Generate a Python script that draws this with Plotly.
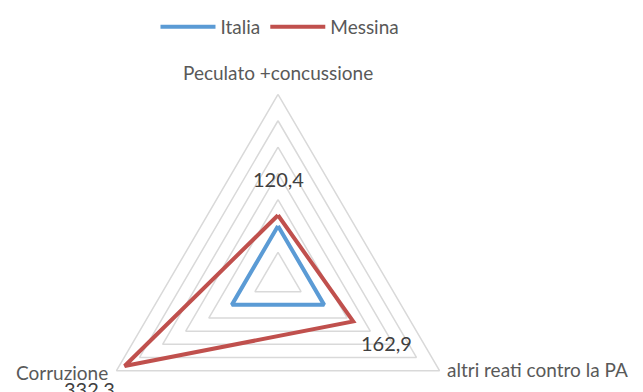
import numpy as np
import plotly.graph_objects as go

categories = ['Peculato +concussione', 'altri reati contro la PA', 'Corruzione']
italia = [100, 100, 100]
messina = [120.4, 162.9, 332.3]
messina_labels = ['120,4', '162,9', '332,3']
grid_levels = [50, 100, 150, 200, 250, 300, 350]

FONT = 'Lato'
GRID = '#D9D9D9'
TXT = '#595959'

# radar spokes: first category on top, then clockwise
angles = np.deg2rad([90, -30, 210])


def to_xy(r):
    r = np.asarray(r, dtype=float)
    x = r * np.cos(angles)
    y = r * np.sin(angles)
    return np.append(x, x[0]), np.append(y, y[0])


fig = go.Figure()

for lv in grid_levels:
    gx, gy = to_xy([lv] * 3)
    fig.add_trace(go.Scatter(x=gx, y=gy, mode='lines', showlegend=False,
                             hoverinfo='skip', line=dict(color=GRID, width=1.5)))

ix, iy = to_xy(italia)
fig.add_trace(go.Scatter(x=ix, y=iy, mode='lines', name='Italia',
                         line=dict(color='#5B9BD5', width=4)))

mx, my = to_xy(messina)
fig.add_trace(go.Scatter(x=mx, y=my, mode='lines', name='Messina',
                         line=dict(color='#C0504D', width=4)))

# data labels (excel puts them a bit away from the point)
shifts = [(0, 36), (33, -22), (-35, -23)]
for i, lab in enumerate(messina_labels):
    fig.add_annotation(x=mx[i], y=my[i], text=lab, showarrow=False,
                       xshift=shifts[i][0], yshift=shifts[i][1],
                       font=dict(family=FONT, size=20, color='#404040'))

# category labels at the outer ring
ox, oy = to_xy([grid_levels[-1]] * 3)
cat_pos = [dict(xanchor='center', yanchor='middle', xshift=0, yshift=22),
           dict(xanchor='left', yanchor='middle', xshift=5, yshift=1),
           dict(xanchor='right', yanchor='middle', xshift=-6, yshift=-2)]
for i, cat in enumerate(categories):
    fig.add_annotation(x=ox[i], y=oy[i], text=cat, showarrow=False,
                       font=dict(family=FONT, size=19, color=TXT), **cat_pos[i])

# pixel scale: outer ring radius ~186px; centre in figure px (page body adds 8px)
k = 186.5 / grid_levels[-1]
W, H = 643, 392
cx, cy = 270, 269

fig.update_layout(
    width=W, height=H,
    margin=dict(l=0, r=0, t=0, b=0),
    paper_bgcolor='white', plot_bgcolor='white',
    font=dict(family=FONT, size=19, color=TXT),
    legend=dict(orientation='h', x=0.423, xanchor='center', y=1.013, yanchor='top',
                itemwidth=55, font=dict(size=19, color=TXT)),
    xaxis=dict(range=[-cx / k, (W - cx) / k], visible=False),
    yaxis=dict(range=[-(H - cy) / k, cy / k], visible=False),
)

fig.write_html('out.html')
